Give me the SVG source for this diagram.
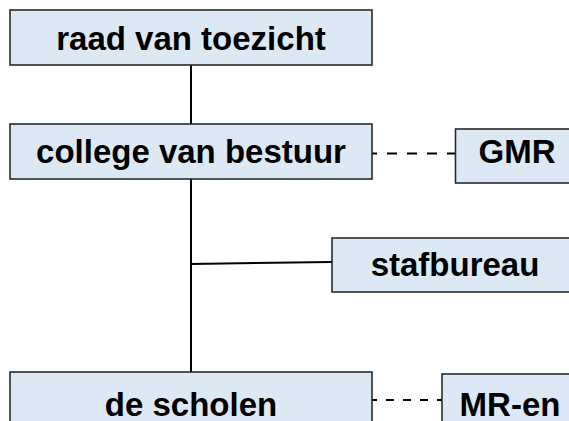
<svg xmlns="http://www.w3.org/2000/svg" width="569" height="421" viewBox="0 0 569 421">
<style>
.box{fill:#dde8f5;stroke:#2a2a2a;stroke-width:1.6}
.lbl{font-family:"Liberation Sans",Arial,sans-serif;font-weight:bold;font-size:33px;fill:#000;text-anchor:middle}
.ln{stroke:#000;stroke-width:2;fill:none}
.dash{stroke:#000;stroke-width:2.2;fill:none}
</style>
<rect width="569" height="421" fill="#fff"/>
<g id="connectors">
<line class="ln" x1="191" y1="65" x2="191" y2="124"/>
<line class="ln" x1="191" y1="179" x2="191" y2="372"/>
<line class="ln" x1="191" y1="264" x2="332" y2="262"/>
<line class="dash" x1="372" y1="153.5" x2="455" y2="153.5" stroke-dasharray="10 10" stroke-dashoffset="5"/>
<line class="dash" x1="372" y1="400" x2="442" y2="400" stroke-dasharray="8 9" stroke-dashoffset="3"/>
</g>
<g id="raad">
<rect class="box" x="10" y="10" width="362" height="55"/>
<text class="lbl" x="191" y="50">raad van toezicht</text>
</g>
<g id="college">
<rect class="box" x="10" y="124" width="362" height="55"/>
<text class="lbl" x="191" y="163">college van bestuur</text>
</g>
<g id="gmr">
<rect class="box" x="455.5" y="129" width="125" height="54"/>
<text class="lbl" x="517" y="163">GMR</text>
</g>
<g id="stafbureau">
<rect class="box" x="332" y="238" width="248" height="54"/>
<text class="lbl" x="455" y="276">stafbureau</text>
</g>
<g id="scholen">
<rect class="box" x="10" y="372" width="362" height="60"/>
<text class="lbl" x="191" y="416">de scholen</text>
</g>
<g id="mr">
<rect class="box" x="442" y="374" width="140" height="60"/>
<text class="lbl" x="510" y="416">MR-en</text>
</g>
</svg>
